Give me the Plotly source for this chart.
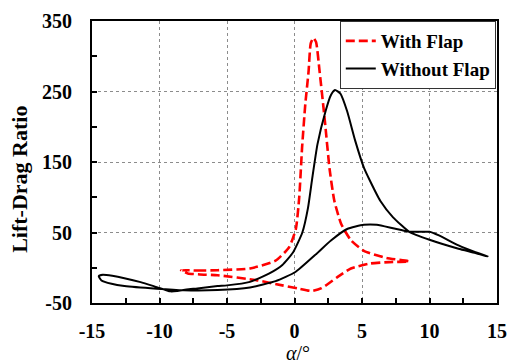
import plotly.graph_objects as go

# Lift-drag ratio hysteresis loops over one pitching cycle (angle of attack in degrees)
alpha_flap = [-8.4, -7.2, -5.7, -3.3, -1.4, -0.4, 0.1, 0.35, 0.56, 0.8, 1.04, 1.2, 1.4,
              1.6, 1.85, 2.25, 2.6, 2.95, 3.46, 4.18, 5.14, 6.8, 8.5,
              7.0, 5.6, 4.18, 3.2, 2.0, 1.28, 0.31, -0.9, -2.83, -5.7, -7.0, -7.9, -8.4]
ld_flap = [-3.5, -4.0, -3.5, -1, 10, 29, 55, 100, 170, 232, 278, 318, 326,
           320, 280, 208, 140, 95, 62, 39, 24, 14, 9,
           8, 6, -1, -13, -29, -33, -29.5, -25, -17.6, -10.6, -9.5, -8, -3.5]

alpha_noflap = [-14.5, -14.2, -13.5, -12.6, -11.4, -10.2, -9.2, -8.7, -8.0, -7.2, -5.7, -5.0, -3.3,
                -1.86, -0.9, -0.1, 0.58, 1.0, 1.3, 1.7, 2.3, 2.7, 3.0, 3.4, 3.9, 4.5, 5.14, 5.6,
                6.35, 7.3, 8.5, 10.0, 12.15, 13.4, 14.3,
                13.4, 12.15, 10.7, 10.0, 8.5, 7.3, 6.1, 5.14, 3.9, 2.7, 1.5, 0.07, -1.4, -3.3,
                -5.7, -8.2, -10.2, -12.6, -13.55, -14.3, -14.5]
ld_noflap = [-12, -10, -11.5, -14.8, -20.4, -27.5, -33.5, -33, -30.7, -29.3, -26, -25, -20,
             -8, 4, 22, 50, 85, 125, 175, 222, 245, 252, 247, 222, 180, 142, 123,
             95, 71.5, 51, 39.7, 27, 21, 16,
             22, 31.7, 45.8, 51, 51, 56, 61, 61, 55, 38.7, 17.6, -6, -19, -28,
             -31.7, -32, -29.8, -26, -22.8, -18, -12]

x_ticks = [-15, -10, -5, 0, 5, 10, 15]
y_ticks = [-50, 50, 150, 250, 350]

serif = "Liberation Serif"

fig = go.Figure()
fig.add_trace(go.Scatter(
    x=alpha_flap, y=ld_flap, mode="lines", name="With Flap",
    line=dict(color="#ff0000", width=2.6, dash="9px,4px", shape="spline", smoothing=0.5),
))
fig.add_trace(go.Scatter(
    x=alpha_noflap, y=ld_noflap, mode="lines", name="Without Flap",
    line=dict(color="#000000", width=2, shape="spline", smoothing=0.5),
))

axis_common = dict(
    showline=True, linecolor="black", linewidth=2, mirror=True,
    showgrid=True, gridcolor="#8c8c8c", griddash="dot", gridwidth=1,
    ticks="inside", ticklen=5, tickwidth=1.5, tickcolor="black",
    zeroline=False,
    tickfont=dict(family=serif, size=20, color="black", weight="bold"),
)

fig.update_xaxes(
    range=[-15, 15], tickvals=x_ticks, ticktext=[str(v) for v in x_ticks],
    minor=dict(dtick=2.5, tick0=-15, ticks="inside", ticklen=5, tickwidth=1.5,
               tickcolor="black", showgrid=False),
    ticklabelstandoff=9,
    **axis_common,
)
fig.update_yaxes(
    range=[-50, 350], tickvals=y_ticks, ticktext=[str(v) for v in y_ticks],
    minor=dict(dtick=50, tick0=-50, ticks="inside", ticklen=5, tickwidth=1.5,
               tickcolor="black", showgrid=False),
    ticklabelstandoff=14,
    **axis_common,
)

fig.add_annotation(
    text="Lift-Drag Ratio", xref="paper", yref="paper", x=-0.178, y=0.44,
    textangle=-90, showarrow=False, xanchor="center", yanchor="middle",
    font=dict(family=serif, size=22, color="black", weight="bold"),
)
fig.add_annotation(
    text="<i>α</i>/°", xref="paper", yref="paper", x=0.508, y=-0.176,
    showarrow=False, xanchor="center", yanchor="middle",
    font=dict(family=serif, size=20, color="black"),
)

fig.update_layout(
    width=517, height=364,
    margin=dict(l=92, r=10, t=19, b=61),
    paper_bgcolor="white", plot_bgcolor="white",
    showlegend=True,
    legend=dict(
        x=0.997, y=1.0, xanchor="right", yanchor="top",
        bgcolor="white", bordercolor="#333333", borderwidth=1,
        font=dict(family=serif, size=19, color="black", weight="bold"),
        tracegroupgap=0, itemwidth=30,
    ),
)

fig.write_html("out.html")
